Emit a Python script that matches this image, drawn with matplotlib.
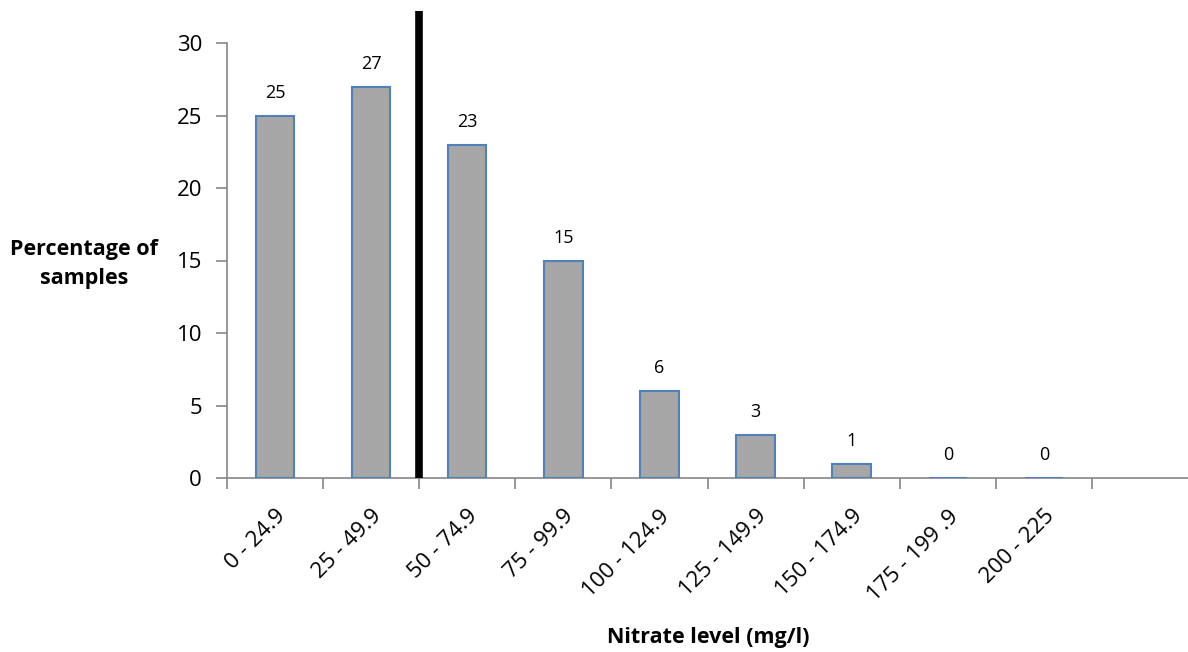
import matplotlib.pyplot as plt
import matplotlib.transforms as mtransforms
import numpy as np

# data
categories = ["0 - 24.9", "25 - 49.9", "50 - 74.9", "75 - 99.9", "100 - 124.9",
              "125 - 149.9", "150 - 174.9", "175 - 199 .9", "200 - 225", ""]
percent = [25, 27, 23, 15, 6, 3, 1, 0, 0, None]
limit_pos = 1.5  # thick black line between 2nd and 3rd bin

plt.rcParams['font.family'] = ['Open Sans', 'DejaVu Sans']

fig = plt.figure(figsize=(11.88, 6.52), dpi=100)
ax = fig.add_axes([227/1188, 1 - 478/652, 1 - 227/1188, (478 - 43)/652])

x = np.arange(len(categories))
vals = [v if v is not None else 0 for v in percent]
ax.bar(x[:9], vals[:9], width=0.4, color='#A6A6A6', edgecolor='#4F81BD', linewidth=1.5, zorder=3)

# value labels
for xi, v in zip(x, percent):
    if v is None:
        continue
    ax.annotate(str(v), (xi, v), xytext=(0, 10), textcoords='offset points',
                ha='center', va='bottom', fontsize=13)

# the vertical limit line
ax.plot([limit_pos, limit_pos], [0, 32.2], color='black', linewidth=5.5,
        solid_capstyle='butt', clip_on=False, zorder=4)

ax.set_xlim(-0.5, 9.5)
ax.set_ylim(0, 30)
ax.set_yticks([0, 5, 10, 15, 20, 25, 30])
ax.set_xticks(np.arange(10) - 0.5, minor=False)
ax.set_xticklabels([])
ax.set_xticks(x[:9], minor=True)
ax.set_xticklabels(categories[:9], minor=True, rotation=45, ha='right',
                   rotation_mode='anchor', fontsize=16)
# nudge the rotated labels a little to the right, like excel does
shift = mtransforms.ScaledTranslation(0.06, 0, fig.dpi_scale_trans)
for lab in ax.get_xticklabels(minor=True):
    lab.set_transform(lab.get_transform() + shift)
ax.tick_params(axis='x', which='minor', length=0, pad=20)
ax.tick_params(axis='x', which='major', length=8, color='#868686', width=1.2)
ax.tick_params(axis='y', length=8, color='#868686', width=1.2, labelsize=16, pad=10)

for side in ['top', 'right']:
    ax.spines[side].set_visible(False)
for side in ['left', 'bottom']:
    ax.spines[side].set_color('#868686')
    ax.spines[side].set_linewidth(1.2)

fig.text(84/1188, 1 - 264/652, "Percentage of\nsamples", ha='center', va='center',
         fontsize=15.5, fontweight='bold', linespacing=1.55)
fig.text(708/1188, 1 - 637/652, "Nitrate level (mg/l)", ha='center', va='center',
         fontsize=15.5, fontweight='bold')

fig.savefig('out.png', dpi=100)
